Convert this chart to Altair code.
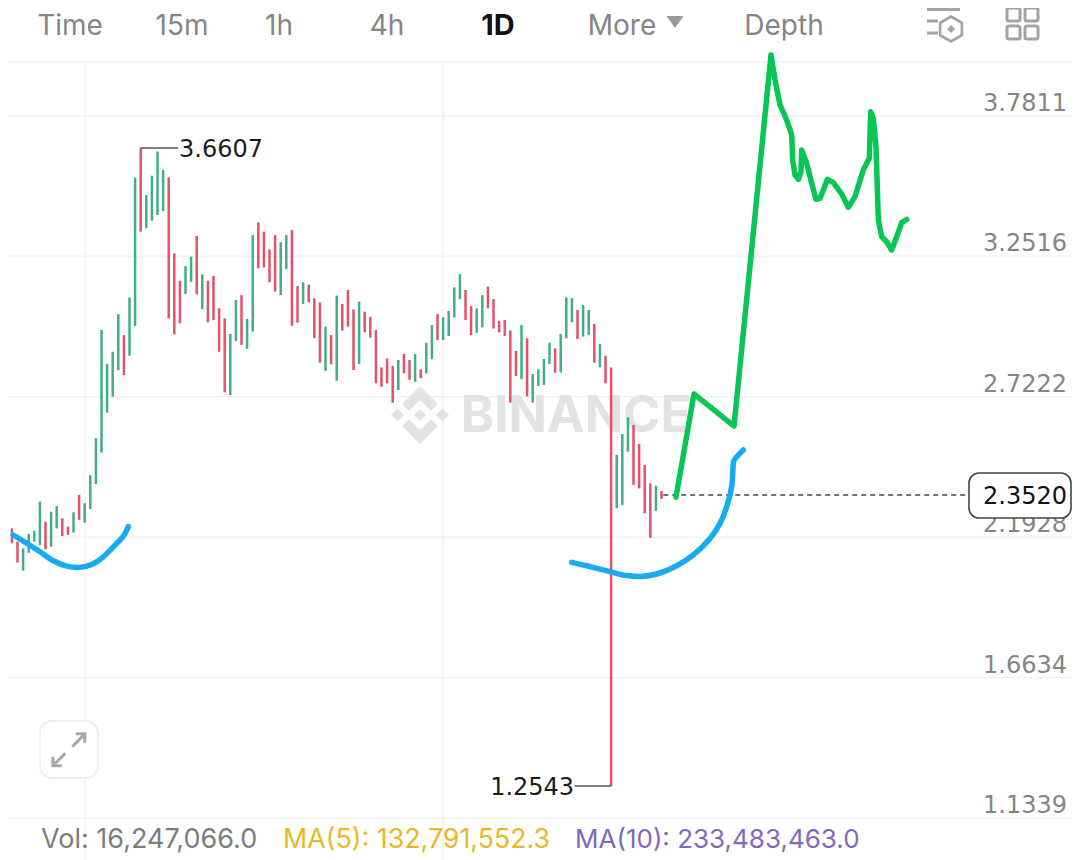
import altair as alt
import pandas as pd

# --- values ---
high = [2.170,2.214,2.226,2.176,2.151,2.205,2.217,2.327,2.251,2.289,
        2.310,2.264,2.233,2.287,2.352,2.321,2.427,2.566,2.974,2.846,
        2.892,3.034,2.955,3.097,3.549,3.6607,3.483,3.556,3.647,3.578,
        3.550,3.263,3.160,3.215,3.251,3.329,3.184,3.160,3.178,3.056,
        3.018,2.959,3.087,3.106,3.016,3.332,3.380,3.345,3.278,3.332,
        3.305,3.332,3.351,3.140,3.154,3.145,3.094,3.078,2.987,2.955,
        3.104,3.072,3.125,3.052,3.081,3.043,3.024,2.974,2.833,2.867,
        2.838,2.861,2.884,2.861,2.884,2.826,2.926,2.993,3.034,3.022,
        3.046,3.135,3.185,3.125,3.065,3.056,3.106,3.138,3.091,3.008,
        3.012,2.972,2.895,2.993,2.943,2.808,2.826,2.865,2.926,2.905,
        2.959,3.097,3.094,3.050,3.068,3.050,2.997,2.921,2.877,2.833,
        2.503,2.582,2.645,2.616,2.544,2.465,2.396,2.387,2.367]
low = [1.962,2.132,2.170,2.097,2.067,2.134,2.176,2.163,2.147,2.157,
       2.226,2.197,2.201,2.210,2.258,2.248,2.299,2.393,2.512,2.662,
       2.723,2.823,2.804,2.877,2.989,3.345,3.358,3.386,3.408,3.423,
       3.018,2.958,2.999,3.110,3.156,3.109,3.053,3.003,3.012,2.892,
       2.739,2.729,2.933,2.918,2.903,2.968,3.207,3.210,3.154,3.119,
       3.106,3.204,2.990,3.002,3.072,3.078,2.943,2.851,2.820,2.845,
       2.783,2.972,2.987,2.823,2.846,2.965,2.945,2.773,2.760,2.773,
       2.700,2.748,2.811,2.786,2.779,2.792,2.811,2.864,2.936,2.936,
       2.952,3.022,3.090,3.012,2.955,2.964,2.984,3.056,2.980,2.965,
       2.952,2.700,2.801,2.789,2.723,2.700,2.763,2.767,2.846,2.813,
       2.814,2.943,3.003,2.940,2.949,2.955,2.851,2.833,2.773,1.2543,
       2.302,2.314,2.515,2.390,2.377,2.283,2.191,2.292,2.337]
direction = list("UUDDUUUUDU" "UDDUDUUUUU" "UUDUUDUUUU" "DDDUUDUDDD" "DUUDUUDDDD"
                 "UUDDUDDDUD" "UDDDUDDDDD" "DUDDUDUUDU" "UUUDDUUDDD" "DDDUDUUUUD"
                 "UUUDUUDUDD" "UUUDDDDUD")

blue1_x = [2.25,4.64,7.02,9.40,11.78,14.16,16.24,18.33,20.41,21.90,22.79]
blue1_p = [2.201,2.170,2.138,2.104,2.084,2.079,2.090,2.119,2.163,2.197,2.233]
blue2_x = [101.96,104.64,108.80,111.78,114.16,117.14,120.71,123.68,126.66,128.45,129.64,130.53,130.83,131.0,132.61]
blue2_p = [2.098,2.085,2.063,2.048,2.045,2.054,2.085,2.126,2.188,2.245,2.308,2.383,2.471,2.484,2.522]
green_x = [120.59,123.80,130.95,137.55,138.27,139.16,140.35,141.25,141.42,141.84,142.44,142.91,143.03,143.92,
           144.82,145.59,146.31,147.61,148.69,150.17,151.36,152.55,154.04,155.11,155.35,155.83,156.30,156.72,
           157.32,158.21,159.10,160.00,160.89,161.78]
green_p = [2.344,2.733,2.612,4.011,3.917,3.823,3.766,3.710,3.615,3.559,3.542,3.571,3.653,3.603,
           3.527,3.467,3.471,3.542,3.530,3.487,3.437,3.477,3.578,3.622,3.797,3.772,3.666,3.389,
           3.326,3.307,3.276,3.326,3.379,3.391]

tick_values = [3.7811, 3.2516, 2.7222, 2.1928, 1.6634, 1.1339]
tick_labels = ["3.7811", "3.2516", "2.7222", "2.1928", "1.6634", "1.1339"]
vgrid_x = [15, 79]
top_line_price = 3.984
last_price = 2.3520
high_price = 3.6607
low_price = 1.2543

# --- scales: plot area is the page minus its 8px margin ---
W, H = 1064, 852
x_scale = alt.Scale(domain=[1.3036, 191.30], nice=False, zero=False)
y_scale = alt.Scale(domain=[0.9755, 4.1884], nice=False, zero=False)
FONT = "Inter"
NUM_FONT = "DejaVu Sans"
GRID = "#f3f3f3"
GRAY = "#858585"

def X(f, **k):
    return alt.X(f, type="quantitative", scale=x_scale, axis=None, **k)
def Y(f, **k):
    return alt.Y(f, type="quantitative", scale=y_scale, axis=None, **k)

one = pd.DataFrame({"a": [0]})

def label(txt, x, y, size=28, color=GRAY, align="center", weight="normal", font=FONT, **kw):
    return alt.Chart(one).mark_text(text=txt, font=font, fontSize=size, color=color,
                                    align=align, baseline="middle", fontWeight=weight, **kw).encode(
        x=alt.value(x - 8), y=alt.value(y - 8))

def box(x0, x1, y0, y1, stroke, sw=2, radius=2, fill="transparent"):
    return alt.Chart(one).mark_rect(fill=fill, stroke=stroke, strokeWidth=sw, cornerRadius=radius).encode(
        x=alt.value(x0 - 8), x2=alt.value(x1 - 8), y=alt.value(y0 - 8), y2=alt.value(y1 - 8))

def seg(x0, x1, y, color="#a3a3a3", sw=3):
    return alt.Chart(one).mark_rule(color=color, strokeWidth=sw).encode(
        x=alt.value(x0 - 8), x2=alt.value(x1 - 8), y=alt.value(y - 8))

def glyph(path, x, y, extent, color, filled=False, sw=2.5):
    kw = dict(fill=color, stroke=None) if filled else dict(fill="transparent", stroke=color, strokeWidth=sw)
    return alt.Chart(one).mark_point(shape=path, size=extent * extent, opacity=1, filled=filled, **kw).encode(
        x=alt.value(x - 8), y=alt.value(y - 8))

ticks = pd.DataFrame({"p": tick_values, "t": tick_labels, "x": [190.41] * len(tick_values)})
grid_rules = alt.Chart(ticks).mark_rule(color=GRID, strokeWidth=1.6).encode(y=Y("p"))
tick_text = alt.Chart(ticks).mark_text(font=NUM_FONT, fontSize=24, color=GRAY, align="right",
                                       baseline="alphabetic", dy=-5).encode(x=X("x"), y=Y("p"), text="t:N")

top_line = alt.Chart(pd.DataFrame({"p": [top_line_price]})).mark_rule(color=GRID, strokeWidth=2).encode(y=Y("p"))
vgrid = alt.Chart(pd.DataFrame({"x": vgrid_x, "p": [top_line_price] * 2, "p2": [0.9755] * 2})).mark_rule(
    color=GRID, strokeWidth=1.5).encode(x=X("x"), y=Y("p"), y2=alt.Y2("p2"))

LOGO = ("M0,-0.21L0.21,0L0,0.21L-0.21,0Z"
        "M-1,0L-0.77,-0.22L-0.55,0L-0.77,0.22Z M1,0L0.77,-0.22L0.55,0L0.77,0.22Z"
        "M0,-1L0.62,-0.38L0.38,-0.15L0,-0.53L-0.38,-0.15L-0.62,-0.38Z"
        "M0,1L0.62,0.38L0.38,0.15L0,0.53L-0.38,0.15L-0.62,0.38Z")
logo = glyph(LOGO, 420, 415, 58, "#e3e3e3", filled=True)
wordmark = label("BINANCE", 576, 417, size=50.5, color="#e3e3e3", weight="bold")

candles = pd.DataFrame({"i": range(len(high)), "high": high, "low": low, "dir": direction})
candle_layer = alt.Chart(candles).mark_rule(strokeWidth=2.5).encode(
    x=X("i"), y=Y("high"), y2=alt.Y2("low"),
    color=alt.Color("dir:N", legend=None,
                    scale=alt.Scale(domain=["U", "D"], range=["#41ae87", "#e3516b"])))

def hline(x0, x1, p, **mk):
    d = pd.DataFrame({"x": [x0], "x2": [x1], "p": [p]})
    return alt.Chart(d).mark_rule(**mk).encode(x=X("x"), x2=alt.X2("x2"), y=Y("p"))

def price_text(x, p, fmt_text, align):
    d = pd.DataFrame({"x": [x], "p": [p]})
    return alt.Chart(d).mark_text(text=fmt_text, font=NUM_FONT, fontSize=24, color="#1c1c1c", align=align,
                                  baseline="middle", dy=2).encode(x=X("x"), y=Y("p"))

hi_rule = hline(25, 31.66, high_price, color="#555555", strokeWidth=1.5)
lo_rule = hline(102.5, 109, low_price, color="#555555", strokeWidth=1.5)
hi_text = price_text(31.84, high_price, "3.6607", "left")
lo_text = price_text(102.4, low_price, "1.2543", "right")
last_rule = hline(118.3, 172.7, last_price, color="#444444", strokeWidth=1.5, strokeDash=[5, 4])

def stroke_line(xs, ps, color, interp):
    d = pd.DataFrame({"x": xs, "p": ps, "o": range(len(xs))})
    return alt.Chart(d).mark_line(color=color, strokeWidth=5.5, strokeCap="round", strokeJoin="round",
                                  interpolate=interp).encode(x=X("x"), y=Y("p"), order="o:Q")

blue1 = stroke_line(blue1_x, blue1_p, "#17abf0", "catmull-rom")
blue2 = stroke_line(blue2_x, blue2_p, "#17abf0", "catmull-rom")
green = stroke_line(green_x, green_p, "#07c653", "linear")

price_box = box(969, 1071, 473, 518, "#444444", sw=1.6, radius=10, fill="#ffffff")
price_label = label("2.3520", 1025, 497, size=24, color="#111111", font=NUM_FONT)

tabs = [label("Time", 70, 27), label("15m", 182, 27), label("1h", 279, 27), label("4h", 387, 27),
        label("1D", 498, 26, size=29, color="#111111", weight="bold"), label("More", 622, 27), label("Depth", 784, 27)]
more_tri = glyph("M-1,-0.7L1,-0.7L0,0.7Z", 675, 22, 17, "#9a9a9a", filled=True)

icons = [seg(927, 960, 9.5), seg(927, 938, 21), seg(927, 938, 33),
         glyph("M0,-1L0.87,-0.5L0.87,0.5L0,1L-0.87,0.5L-0.87,-0.5Z", 951, 29, 25, "#a3a3a3", sw=2.6),
         glyph("M0,-1L1,0L0,1L-1,0Z", 951, 29, 8, "#a3a3a3", filled=True),
         box(1007, 1020, 8, 21, "#a3a3a3", sw=3), box(1025, 1038, 8, 21, "#a3a3a3", sw=3),
         box(1007, 1020, 26, 39, "#a3a3a3", sw=3), box(1025, 1038, 26, 39, "#a3a3a3", sw=3)]

expand_box = box(40, 98, 721, 778, "#efefef", sw=2, radius=12, fill="#ffffff")
EXPAND = ("M-0.22,0.2L-0.95,0.93M-0.95,0.4L-0.95,0.93L-0.42,0.93"
          "M0.2,-0.2L0.93,-0.95M0.4,-0.95L0.93,-0.95L0.93,-0.42")
expand = glyph(EXPAND, 69, 750, 34, "#a8a8a8", sw=3)

footer = [label("Vol: 16,247,066.0", 41, 840, size=27, color="#7d7d7d", align="left"),
          label("MA(5): 132,791,552.3", 283, 840, size=26.8, color="#e9b828", align="left"),
          label("MA(10): 233,483,463.0", 575, 840, size=26, color="#8168bd", align="left")]

chart = alt.layer(
    grid_rules, tick_text, top_line, vgrid, logo, wordmark, candle_layer,
    hi_rule, lo_rule, hi_text, lo_text, last_rule,
    blue1, blue2, green, price_box, price_label,
    *tabs, more_tri, *icons, expand_box, expand, *footer
).properties(width=W, height=H, padding=0,
             autosize=alt.AutoSizeParams(type="none"),
             background="#ffffff").configure_view(stroke=None)

chart.save("out.html", embed_options={"renderer": "svg", "actions": False})
